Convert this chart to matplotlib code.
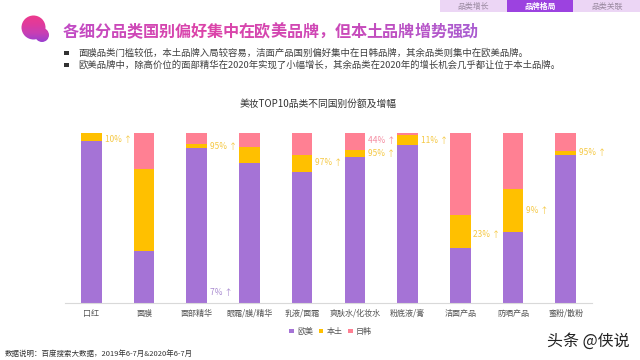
import matplotlib
matplotlib.use("Agg")
import matplotlib.pyplot as plt
import matplotlib.patches as pch
from matplotlib.colors import LinearSegmentedColormap, to_hex
import numpy as np

plt.rcParams['font.family'] = ['Noto Sans CJK SC', 'DejaVu Sans']

categories = ['口红', '面膜', '面部精华', '眼霜/膜/精华', '乳液/面霜',
              '爽肤水/化妆水', '粉底液/膏', '洁面产品', '防晒产品', '蜜粉/散粉']
west = [95.6, 30.5, 91.1, 82.7, 77.0, 86.2, 92.9, 32.3, 41.7, 87.0]
local = [4.4, 48.6, 2.7, 9.4, 10.0, 3.9, 5.9, 19.6, 25.3, 2.7]
japan_korea = [0.0, 20.9, 6.2, 7.9, 13.0, 9.9, 1.2, 48.1, 33.0, 10.3]

# (bar index, height on the value axis, text, colour)
growth_labels = [
    (0, 96.6, '10%', '#f5c842'),
    (2, 92.0, '95%', '#f5c842'),
    (4, 83.0, '97%', '#f5c842'),
    (5, 96.0, '44%', '#f58ba0'),
    (5, 88.2, '95%', '#f5c842'),
    (6, 95.6, '11%', '#f5c842'),
    (7, 40.5, '23%', '#f5c842'),
    (8, 54.7, '9%', '#f5c842'),
    (9, 88.4, '95%', '#f5c842'),
    (2, 6.3, '7%', '#a98bd0'),
]

title_text = '各细分品类国别偏好集中在欧美品牌，但本土品牌增势强劲'
bullets = ['面膜品类门槛较低，本土品牌入局较容易，洁面产品国别偏好集中在日韩品牌，其余品类则集中在欧美品牌。',
           '欧美品牌中，除高价位的面部精华在2020年实现了小幅增长，其余品类在2020年的增长机会几乎都让位于本土品牌。']
tabs = ['品类增长', '品牌格局', '品类关联']

PURPLE = '#a573d6'
YELLOW = '#ffc000'
PINK = '#ff8093'

fig = plt.figure(figsize=(6.4, 3.6), dpi=100)

# page layer in pixel coordinates
page = fig.add_axes([0, 0, 1, 1])
page.axis('off')

# logo
grad = np.linspace(0, 1, 64).reshape(-1, 1)
cmap = LinearSegmentedColormap.from_list('logo', ['#ee3a8c', '#e03a9c', '#c83fb4', '#9a3fd0'])
im = page.imshow(grad, extent=(20, 50, 42, 15), cmap=cmap, aspect='auto', zorder=2)
im.set_clip_path(pch.Circle((33.5, 27.5), 12, transform=page.transData))
im2 = page.imshow(grad, extent=(20, 50, 42, 15), cmap=cmap, aspect='auto', zorder=2)
im2.set_clip_path(pch.Circle((42, 35), 7, transform=page.transData))
page.set_xlim(0, 640)
page.set_ylim(360, 0)

# title, one colour per glyph to fake the gradient
title_cmap = LinearSegmentedColormap.from_list('title', ['#c24cc4', '#dc44a8', '#cc48b8', '#aa5cd0'])
step = 415 / len(title_text)
for i, ch in enumerate(title_text):
    page.text(63 + step * i + step / 2, 31.5, ch, ha='center', va='center', fontsize=11.6,
              fontweight='bold', color=to_hex(title_cmap(i / (len(title_text) - 1))))

# bullets
for y, line in zip((53, 65), bullets):
    page.add_patch(pch.Rectangle((64, y - 2.2), 4.5, 4.5, color='#333333', lw=0))
    page.text(78, y, line, ha='left', va='center', fontsize=6.75, color='#404040')

# tabs
for i, tab in enumerate(tabs):
    active = i == 1
    page.add_patch(pch.Rectangle((440 + i * 66.7, 0), 66.7, 12,
                                 color='#9c42e0' if active else '#ecd6f5', lw=0))
    page.text(473.3 + i * 66.7, 6, tab, ha='center', va='center', fontsize=5.7,
              color='white' if active else '#9a8aa0', fontweight='bold' if active else 'normal')

page.text(318, 104, '美妆TOP10品类不同国别份额及增幅', ha='center', va='center', fontsize=7.0,
          color='#333333', fontweight='medium')
page.text(5, 353.5, '数据说明：百度搜索大数据，2019年6-7月&2020年6-7月', ha='left', va='center',
          fontsize=5.4, color='#333333')
page.text(630, 341, '头条 @侠说', ha='right', va='center', fontsize=11.5, color='#222222')

# chart
ax = fig.add_axes([65 / 640, (360 - 302.7) / 360, (592 - 65) / 640, 169.4 / 360])
x = np.arange(len(categories))
west = np.array(west)
local = np.array(local)
japan_korea = np.array(japan_korea)
ax.bar(x, west, 0.39, color=PURPLE, label='欧美')
ax.bar(x, local, 0.39, bottom=west, color=YELLOW, label='本土')
ax.bar(x, japan_korea, 0.39, bottom=west + local, color=PINK, label='日韩')
ax.set_xlim(-0.5, len(categories) - 0.5)
ax.set_ylim(0, 100)
ax.set_yticks([])
ax.set_xticks(x, categories, fontsize=5.8, color='#555555')
ax.tick_params(axis='x', length=0, pad=4.5)
for s in ('top', 'left', 'right'):
    ax.spines[s].set_visible(False)
ax.spines['bottom'].set_color('#d9d9d9')
ax.spines['bottom'].set_linewidth(0.8)
ax.patch.set_alpha(0)

for i, h, txt, c in growth_labels:
    ax.text(i + 0.25, h, txt + ' ↑', ha='left', va='center', fontsize=6.0, color=c)

ax.legend(loc='upper center', bbox_to_anchor=(0.504, -0.1), ncol=3, frameon=False, fontsize=5.8,
          handlelength=0.55, handleheight=0.55, handletextpad=0.4, columnspacing=0.7,
          labelcolor='#555555')

fig.savefig('out.png', dpi=100)
